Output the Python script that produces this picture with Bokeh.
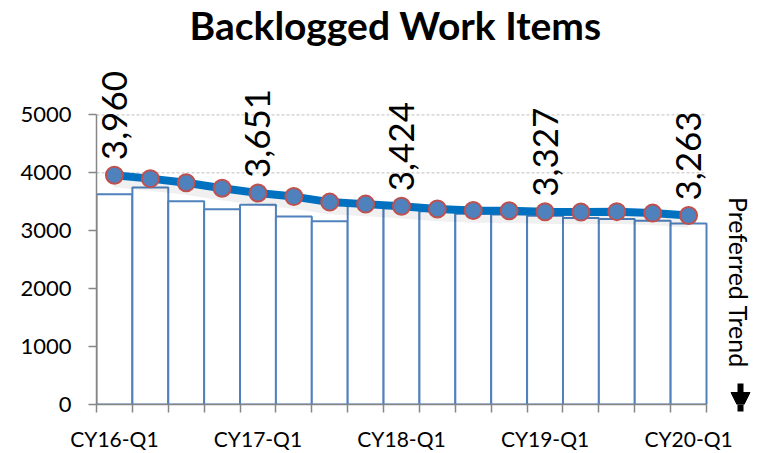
import math
from bokeh.plotting import figure
from bokeh.models import (Range1d, FixedTicker, Label, Arrow, NormalHead, ColumnDataSource)
from bokeh.core.properties import value
from bokeh.embed import file_html
from bokeh.resources import INLINE

# ---- data ----
quarters = ["CY16-Q1", "CY16-Q2", "CY16-Q3", "CY16-Q4",
            "CY17-Q1", "CY17-Q2", "CY17-Q3", "CY17-Q4",
            "CY18-Q1", "CY18-Q2", "CY18-Q3", "CY18-Q4",
            "CY19-Q1", "CY19-Q2", "CY19-Q3", "CY19-Q4",
            "CY20-Q1"]
bar_values = [3630, 3745, 3510, 3370, 3450, 3245, 3165, 3430, 3390,
              3335, 3295, 3280, 3260, 3222, 3204, 3175, 3125]
trend_values = [3960, 3900, 3830, 3735, 3651, 3590, 3495, 3460, 3424,
                3375, 3350, 3345, 3327, 3322, 3330, 3305, 3263]
y_ticks = [0, 1000, 2000, 3000, 4000, 5000]
label_every = 4
title_text = "Backlogged Work Items"
side_text = "Preferred Trend"

n = len(quarters)
idx = list(range(n))
label_idx = idx[::label_every]

FONT = "Lato"
GREY = "#868686"

W, H = 759, 453
LEFT, BOTTOM = 96, 47
frame_w = W - LEFT
frame_h = H - BOTTOM
band_px = 610 / n
x_end = -0.5 + frame_w / band_px
y_end = frame_h / 0.0582

p = figure(width=W, height=H, output_backend="svg", toolbar_location=None,
           x_range=Range1d(-0.5, x_end), y_range=Range1d(0, y_end),
           min_border_left=LEFT, min_border_right=0, min_border_top=0,
           min_border_bottom=BOTTOM)
p.outline_line_color = None
p.background_fill_color = "white"
p.border_fill_color = "white"
p.grid.visible = False

# horizontal dashed grid lines, only across the category area
p.segment(x0=[-0.5] * len(y_ticks), x1=[n - 0.5] * len(y_ticks),
          y0=y_ticks, y1=y_ticks, line_color="#BFBFBF", line_dash="3 2",
          line_width=1)

# bars
src = ColumnDataSource(dict(x=idx, bar=bar_values, trend=trend_values,
                            shadow=[v - 90 for v in trend_values]))
p.vbar(x="x", top="bar", width=1.0, source=src, fill_color="white",
       line_color="#4F81BD", line_width=2)

# soft shadow under the trend line
p.line(x="x", y="shadow", source=src, line_color="black", line_alpha=0.06,
       line_width=14)

# trend line with markers
p.line(x="x", y="trend", source=src, line_color="#0070C0", line_width=8)
p.scatter(x="x", y="trend", source=src, size=17, fill_color="#4F81BD",
          line_color="#C0504D", line_width=2)

# rotated data labels
lsrc = ColumnDataSource(dict(x=label_idx, y=[trend_values[i] for i in label_idx],
                             t=[f"{trend_values[i]:,}" for i in label_idx]))
p.text(x="x", y="y", text="t", source=lsrc, angle=math.pi / 2,
       text_align="left", text_baseline="middle", y_offset=-15,
       text_font=value(FONT), text_font_size="35px", text_color="black")

# x axis
xa = p.xaxis[0]
xa.ticker = FixedTicker(ticks=label_idx,
                        minor_ticks=[i - 0.5 for i in range(n + 1)])
xa.bounds = (-0.5, n - 0.5)
xa.major_label_overrides = {i: quarters[i] for i in label_idx}
xa.major_tick_line_color = None
xa.major_tick_out = 0
xa.major_tick_in = 0
xa.minor_tick_line_color = GREY
xa.minor_tick_line_width = 1.5
xa.minor_tick_out = 8
xa.minor_tick_in = 0
xa.axis_line_color = GREY
xa.axis_line_width = 1.5
xa.major_label_standoff = 13
xa.major_label_text_font = FONT
xa.major_label_text_font_size = "21px"
xa.major_label_text_color = "black"

# y axis
ya = p.yaxis[0]
ya.ticker = FixedTicker(ticks=y_ticks)
ya.bounds = (0, 5000)
ya.major_tick_line_color = GREY
ya.major_tick_line_width = 1.5
ya.major_tick_out = 8
ya.major_tick_in = 0
ya.minor_tick_line_color = None
ya.axis_line_color = GREY
ya.axis_line_width = 1.5
ya.major_label_standoff = 17
ya.major_label_text_font = FONT
ya.major_label_text_font_size = "22px"
ya.major_label_text_color = "black"

# title (screen units measured from the frame's bottom-left)
p.add_layout(Label(x=395 - LEFT, y=frame_h - 26, x_units="screen", y_units="screen",
                   text=title_text, text_align="center", text_baseline="middle",
                   text_font=FONT, text_font_style="bold",
                   text_font_size="39px", text_color="black"))

# "Preferred Trend" with a downward arrow
p.add_layout(Label(x=738 - LEFT, y=frame_h - 284, x_units="screen", y_units="screen",
                   text=side_text, angle=-math.pi / 2, text_align="center",
                   text_baseline="middle", text_font=FONT,
                   text_font_size="25px", text_color="black"))
p.add_layout(Arrow(x_start=740 - LEFT, y_start=frame_h - 385,
                   x_end=740 - LEFT, y_end=frame_h - 413,
                   start_units="screen", end_units="screen",
                   line_width=6, line_color="black",
                   end=NormalHead(size=19, fill_color="black",
                                  line_color="black", line_width=1)))

open("out.html", "w").write(file_html(p, INLINE))
